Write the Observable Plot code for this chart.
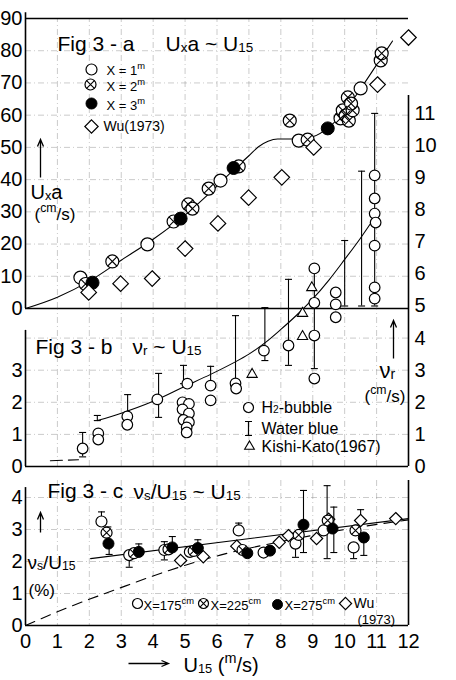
<!DOCTYPE html>
<html><head><meta charset="utf-8">
<script src="https://cdn.jsdelivr.net/npm/d3@7"></script>
<script src="https://cdn.jsdelivr.net/npm/@observablehq/plot@0.6"></script>
<style>
body{margin:0;background:#fff}
#wrap{position:relative;width:456px;height:680px;overflow:hidden;background:#fff}
#wrap svg{position:absolute;left:0}
</style>
</head><body><div id="wrap"></div>
<script>
// ---------- shared axis values ----------
const xTicks = [0,1,2,3,4,5,6,7,8,9,10,11,12];
const xGrid = [1,2,3,4,5,6,7,8,9,10,11];
const aTicks = [0,10,20,30,40,50,60,70,80,90];
const bTicksLeft = [0,1,2,3];
const bTicksRight = [0,1,2,3,4,5,6,7,8,9,10,11];
const cTicks = [0,1,2,3,4];

// ---------- Fig 3-a : U*a ~ U15 ----------
const aCurve = [[0,0],[1,3.5],[2,8.5],[3,15],[4,21.5],[5,29],[6,38],[6.6,43.8],[7,47.4],[7.3,50.2],[7.6,51.9],[7.9,52.6],[8.5,52.6],[9.0,53.3],[9.5,56.2],[10,61.3],[10.5,68.2],[11,75.6],[11.5,83]];
const aX1 = [[1.72,9.6],[3.82,19.9],[6.11,39.7],[8.56,52.1],[10.5,68.3]];
const aX2 = [[1.88,7.6],[2.72,14.6],[4.64,27.0],[5.1,32.3],[5.23,31.0],[5.74,37.2],[6.68,44.1],[8.28,58.3],[8.84,52.4],[9.87,59.0],[9.94,61.5],[10.03,59.9],[10.13,58.3],[10.25,61.5],[10.1,65.5],[10.2,63.6],[11.13,77.0],[11.16,79.2]];
const aX3 = [[2.1,8.0],[4.86,27.9],[6.52,43.6],[9.47,55.9]];
const aWu = [[1.98,5.0],[2.98,7.7],[3.97,9.3],[5.0,18.6],[6.03,26.4],[6.99,34.4],[8.03,40.7],[9.03,50.0],[11.03,69.5],[12.0,84.1]];

// ---------- Fig 3-b : vr ~ U15 ----------
const bCurve = [[2.25,1.43],[3,1.66],[4,2.03],[5,2.5],[5.8,2.87],[6.5,3.22],[7,3.5],[7.5,3.85],[8,4.27],[8.5,4.72],[9,5.22],[9.5,5.8],[10,6.45],[10.5,7.12],[11,7.85]];
const bDash = [[0.78,0.18],[1.66,0.21]];
const bH2 = [[1.79,0.56],[2.28,1.03],[2.28,0.84],[3.19,1.56],[3.19,1.3],[4.13,2.09],[5.07,2.58],[4.92,2.0],[5.12,1.95],[4.92,1.78],[5.12,1.65],[4.95,1.45],[5.12,1.38],[5.05,1.22],[5.05,1.06],[5.8,2.52],[5.8,2.06],[6.58,2.59],[6.6,2.43],[7.47,3.61],[8.24,3.77],[9.05,6.17],[9.05,5.1],[9.05,4.08],[9.05,2.74],[9.72,5.42],[9.72,5.05],[9.72,4.65],[10.94,9.07],[10.94,8.35],[10.94,7.88],[10.97,7.6],[10.94,6.88],[10.94,5.58],[10.94,5.23]];
const bWaterBlue = [[1.79,0.3,1.06],[2.25,1.43,1.59],[3.2,1.43,2.24],[4.17,1.53,2.9],[4.95,2.58,3.15],[5.8,2.52,3.12],[6.58,2.37,4.7],[7.5,3.3,4.95],[8.24,3.15,5.83],[9.05,3.05,6.17],[10.0,5.0,7.04],[10.53,5.0,9.2],[10.94,5.0,11.0]];
const bKishiKato = [[7.1,2.87],[8.68,4.05],[8.68,4.77],[8.97,5.57]];

// ---------- Fig 3-c : vs/U15 ~ U15 ----------
const cSolid = [[2.04,2.09],[12,3.34]];
const cDashed = [[0,0],[1.3,0.55],[2.9,1.15],[4.5,1.72],[6.1,2.2],[7.4,2.5],[8.5,2.72],[10,3.0],[12,3.3]];
const cX175 = [[2.38,3.25],[3.25,2.2],[4.35,2.36],[5.15,2.3],[6.68,2.97],[7.46,2.28],[8.46,2.56],[9.34,2.97],[10.28,2.44]];
const cX225 = [[2.54,2.9],[3.4,2.26],[4.48,2.38],[5.27,2.33],[6.8,2.36],[8.56,2.83],[9.47,3.28],[10.34,2.97]];
const cX275 = [[2.6,2.56],[3.55,2.3],[4.6,2.44],[5.4,2.42],[6.95,2.26],[7.66,2.34],[8.71,3.15],[9.62,3.03],[10.6,2.75]];
const cWu = [[4.86,2.03],[5.57,2.15],[6.62,2.48],[7.95,2.6],[8.24,2.81],[9.12,2.72],[9.5,3.32],[10.5,3.28],[11.6,3.34]];
const cErr = [[2.38,3.25,3.55],[2.58,2.9,3.08],[2.62,2.22,2.56],[3.25,1.82,2.2],[3.55,2.3,2.55],[4.35,2.05,2.62],[4.6,2.44,2.78],[5.4,2.42,2.68],[6.68,2.97,3.2],[8.46,2.13,2.56],[8.71,2.28,4.22],[9.45,2.09,4.37],[9.66,2.28,3.7],[10.28,2.09,2.44],[10.5,3.28,3.62],[10.6,2.19,2.75]];

// ---------- helpers ----------
const W = 456, ML = 25, MR = 48;
const FONT = "'Liberation Sans', Arial, Helvetica, sans-serif";
const u = d => d[0], v = d => d[1];
const gridStyle = {stroke:"#888", strokeOpacity:0.55, strokeWidth:0.8, strokeDasharray:"6,3,1,3"};
const frameStyle = {stroke:"black", strokeWidth:1.6};
const capSym = {draw(c, s){ const r = Math.sqrt(s/Math.PI); c.moveTo(-r,0); c.lineTo(r,0); }};
const iSym = {draw(c){ c.moveTo(0,-7); c.lineTo(0,7); c.moveTo(-3.5,-7); c.lineTo(3.5,-7); c.moveTo(-3.5,7); c.lineTo(3.5,7); }};
const arrowSym = (len) => ({draw(c){ const h=len/2; c.moveTo(0,h); c.lineTo(0,-h); c.moveTo(-3,-h+7); c.lineTo(0,-h); c.lineTo(3,-h+7); }});
const sOpen = r => ({r, symbol:"circle", fill:"white", stroke:"black", strokeWidth:1.2});
const sFill = r => ({r, symbol:"circle", fill:"black", stroke:"black", strokeWidth:1});
const sTimes = r => ({r, symbol:"times", fill:"none", stroke:"black", strokeWidth:1.1});
const sDia = r => ({r, symbol:"diamond2", fill:"white", stroke:"black", strokeWidth:1.2});
const sTri = r => ({r, symbol:"triangle", fill:"white", stroke:"black", strokeWidth:1.1});

function ann(top){
  return {
    t:(s,px,py,o={}) => Plot.text([s], {text:d=>d, frameAnchor:"top-left", dx:px-ML, dy:py-top, textAnchor:"start", lineAnchor:"bottom", fontSize:16, fill:"black", ...o}),
    d:(px,py,o={}) => Plot.dot([0], {frameAnchor:"top-left", dx:px-ML, dy:py-top, ...o})
  };
}
function errMarks(data, cap){
  return [
    Plot.ruleX(data, {x:d=>d[0], y1:d=>d[1], y2:d=>d[2], stroke:"black", strokeWidth:1.1}),
    Plot.dot(data, {x:d=>d[0], y:d=>d[2], symbol:capSym, r:cap, fill:"none", stroke:"black", strokeWidth:1.1}),
    Plot.dot(data, {x:d=>d[0], y:d=>d[1], symbol:capSym, r:cap, fill:"none", stroke:"black", strokeWidth:1.1})
  ];
}
function richify(svg){
  svg.querySelectorAll("text").forEach(t => {
    const s = t.textContent;
    if (!/[\^_]\{/.test(s)) return;
    const fs = parseFloat(getComputedStyle(t).fontSize) || 16;
    while (t.firstChild) t.removeChild(t.firstChild);
    const re = /([\^_])\{([^}]*)\}|([^\^_]+|[\^_])/g;
    let m, shift = 0;
    while ((m = re.exec(s))) {
      const ts = document.createElementNS("http://www.w3.org/2000/svg", "tspan");
      let target = 0, size = null;
      if (m[1] === "^") { target = -0.42*fs; size = 0.72*fs; ts.textContent = m[2]; }
      else if (m[1] === "_") { target = 0.06*fs; size = 0.64*fs; ts.textContent = m[2]; }
      else ts.textContent = m[3];
      ts.setAttribute("dy", (target - shift).toFixed(2)); shift = target;
      if (size) ts.setAttribute("font-size", size.toFixed(2));
      t.appendChild(ts);
    }
  });
}
const baseStyle = {background:"transparent", fontFamily:FONT, color:"black", overflow:"visible"};

// ---------- Panel A ----------
const A = ann(18);
const plotA = Plot.plot({
  width:W, height:330, marginLeft:ML, marginRight:MR, marginTop:18, marginBottom:22,
  x:{domain:[0,12], axis:null}, y:{domain:[0,90], axis:null},
  style:baseStyle,
  marks:[
    Plot.gridX(xGrid, {y1:0, y2:90, ...gridStyle}),
    Plot.gridY([10,20,30,40,50,60,70,80], gridStyle),
    Plot.axisY(aTicks, {anchor:"left", tickSize:0, tickPadding:3, fontSize:20, label:null}),
    Plot.ruleX([0], {y1:0, y2:91.8, ...frameStyle}),
    Plot.ruleY([90], {x1:0, x2:12, ...frameStyle}),
    Plot.ruleY([0], {x1:0, x2:12, ...frameStyle}),
    Plot.line(aCurve, {x:u, y:v, curve:"monotone-x", stroke:"black", strokeWidth:1.1}),
    Plot.dot(aX1, {x:u, y:v, ...sOpen(6.5)}),
    Plot.dot(aX2, {x:u, y:v, ...sOpen(6.5)}),
    Plot.dot(aX2, {x:u, y:v, ...sTimes(4.2)}),
    Plot.dot(aX3, {x:u, y:v, ...sFill(6.5)}),
    Plot.dot(aWu, {x:u, y:v, ...sDia(7)}),
    A.t("Fig 3 - a", 57, 50, {fontSize:21}),
    A.t("U_{x}a ~ U_{15}", 165, 50, {fontSize:21}),
    A.d(91, 69, sOpen(5.5)),
    A.d(90, 84, sOpen(5.5)), A.d(90, 84, sTimes(3.6)),
    A.d(91, 103, sFill(5.5)),
    A.d(91, 126, sDia(6)),
    A.t("X = 1^{m}", 106, 74, {fontSize:13}),
    A.t("X = 2^{m}", 106, 90, {fontSize:13}),
    A.t("X = 3^{m}", 106, 109, {fontSize:13}),
    A.t("Wu(1973)", 103, 130, {fontSize:14}),
    A.d(40, 158, {symbol:arrowSym(38), r:5, fill:"none", stroke:"black", strokeWidth:1.3}),
    A.t("U_{x}a", 30, 198, {fontSize:20}),
    A.t("(^{cm}/s)", 34, 219, {fontSize:17})
  ]
});

// ---------- Panel B ----------
const B = ann(95);
const plotB = Plot.plot({
  width:W, height:490, marginLeft:ML, marginRight:MR, marginTop:95, marginBottom:24,
  x:{domain:[0,12], axis:null}, y:{domain:[0,371/32.1], axis:null},
  style:baseStyle,
  marks:[
    Plot.gridX(xGrid, {y1:0, y2:4.9, ...gridStyle}),
    Plot.gridY([1,2,3,4], gridStyle),
    Plot.axisY(bTicksLeft, {anchor:"left", tickSize:0, tickPadding:3, fontSize:20, label:null}),
    Plot.axisY(bTicksRight, {anchor:"right", tickSize:0, tickPadding:6, fontSize:20, label:null}),
    Plot.ruleX([0], {y1:0, y2:4.24, ...frameStyle}),
    Plot.ruleX([12], {y1:0, y2:371/32.1, ...frameStyle}),
    Plot.ruleY([0], {x1:0, x2:12, ...frameStyle}),
    Plot.line(bCurve, {x:u, y:v, curve:"monotone-x", stroke:"black", strokeWidth:1.1}),
    Plot.line(bDash, {x:u, y:v, stroke:"black", strokeWidth:1.1, strokeDasharray:"12,6"}),
    ...errMarks(bWaterBlue, 3.5),
    Plot.dot(bH2, {x:u, y:v, ...sOpen(5.3)}),
    Plot.dot(bKishiKato, {x:u, y:v, ...sTri(3.8)}),
    B.t("Fig 3 - b", 35, 353, {fontSize:21}),
    B.t("ν_{r} ~ U_{15}", 132, 353, {fontSize:21}),
    B.d(248, 407, sOpen(5)),
    B.t("H_{2}-bubble", 261, 412, {fontSize:16}),
    B.d(248, 428, {symbol:iSym, r:5, fill:"none", stroke:"black", strokeWidth:1.2}),
    B.t("Water blue", 261, 433, {fontSize:16}),
    B.d(249, 446, sTri(3.6)),
    B.t("Kishi-Kato(1967)", 261, 451, {fontSize:16}),
    B.d(393, 339, {symbol:arrowSym(38), r:5, fill:"none", stroke:"black", strokeWidth:1.3}),
    B.t("ν_{r}", 379, 377, {fontSize:22}),
    B.t("(^{cm}/s)", 364, 401, {fontSize:17})
  ]
});

// ---------- Panel C ----------
const C = ann(480);
const plotC = Plot.plot({
  width:W, height:220, marginLeft:ML, marginRight:MR, marginTop:20, marginBottom:55,
  x:{domain:[0,12], axis:null}, y:{domain:[0,145/32], axis:null},
  style:baseStyle,
  marks:[
    Plot.gridX(xGrid, gridStyle),
    Plot.gridY([1,2,3,4], gridStyle),
    Plot.axisY(cTicks, {anchor:"left", tickSize:0, tickPadding:3, fontSize:20, label:null}),
    Plot.axisX(xTicks, {anchor:"bottom", tickSize:0, tickPadding:8, fontSize:20, label:null}),
    Plot.ruleX([0], {y1:0, y2:4.31, ...frameStyle}),
    Plot.ruleX([12], {y1:0, y2:145/32, ...frameStyle}),
    Plot.ruleY([0], {x1:0, x2:12, ...frameStyle}),
    Plot.line(cDashed, {x:u, y:v, curve:"monotone-x", stroke:"black", strokeWidth:1.1, strokeDasharray:"10,7"}),
    Plot.line(cSolid, {x:u, y:v, stroke:"black", strokeWidth:1.1}),
    ...errMarks(cErr, 3.5),
    Plot.dot(cWu, {x:u, y:v, ...sDia(5.5)}),
    Plot.dot(cX175, {x:u, y:v, ...sOpen(5.5)}),
    Plot.dot(cX225, {x:u, y:v, ...sOpen(5.5)}),
    Plot.dot(cX225, {x:u, y:v, ...sTimes(3.6)}),
    Plot.dot(cX275, {x:u, y:v, ...sFill(5.5)}),
    C.t("Fig 3 - c", 47, 497, {fontSize:21}),
    C.t("ν_{s}/U_{15} ~ U_{15}", 133, 498, {fontSize:21}),
    C.d(40, 522, {symbol:arrowSym(20), r:5, fill:"none", stroke:"black", strokeWidth:1.3}),
    C.t("ν_{s}/U_{15}", 27, 568, {fontSize:19}),
    C.t("(%)", 28, 595, {fontSize:17}),
    C.d(137, 603, sOpen(5)),
    C.t("X=175^{cm}", 143, 609, {fontSize:13}),
    C.d(203, 603, sOpen(5)), C.d(203, 603, sTimes(3.3)),
    C.t("X=225^{cm}", 210, 609, {fontSize:13}),
    C.d(277, 604, sFill(5)),
    C.t("X=275^{cm}", 284, 609, {fontSize:13}),
    C.d(345, 603, sDia(5.5)),
    C.t("Wu", 353, 607, {fontSize:14}),
    C.t("(1973)", 357, 623, {fontSize:13}),
    C.d(148, 663, {symbol:arrowSym(40), r:5, rotate:90, fill:"none", stroke:"black", strokeWidth:1.3}),
    C.t("U_{15} (^{m}/s)", 183, 671, {fontSize:20})
  ]
});

const wrap = document.getElementById("wrap");
[[plotA,0],[plotB,0],[plotC,460]].forEach(([p,top]) => {
  p.style.top = top + "px";
  p.style.position = "absolute";
  p.style.left = "0px";
  wrap.appendChild(p);
  richify(p);
});
</script>
</body></html>
